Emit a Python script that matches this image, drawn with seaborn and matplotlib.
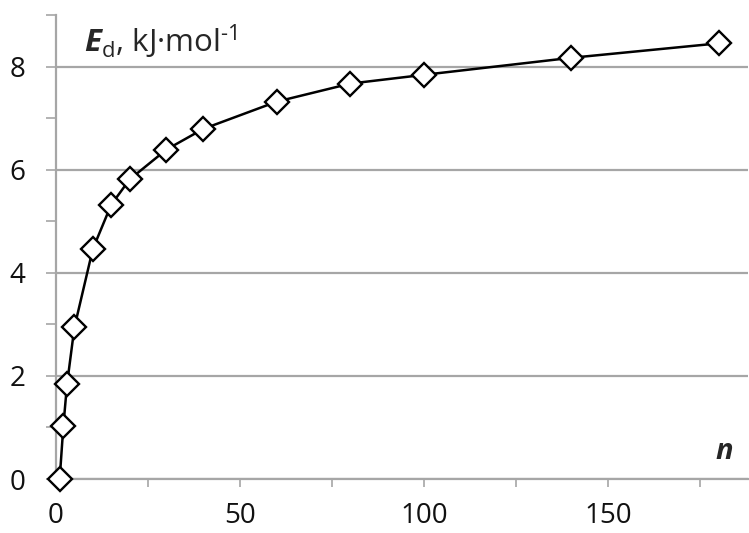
import matplotlib
matplotlib.use("Agg")
import matplotlib.pyplot as plt
from matplotlib.ticker import MultipleLocator
import seaborn as sns
import pandas as pd

# Cluster size n and dispersion energy E_d (kJ/mol)
n_values = [1, 2, 3, 5, 10, 15, 20, 30, 40, 60, 80, 100, 140, 180]
ed_values = [0.0, 1.03, 1.84, 2.94, 4.46, 5.32, 5.81, 6.39, 6.79, 7.32, 7.67, 7.84, 8.17, 8.45]

x_tick_values = [0, 50, 100, 150]
x_tick_labels = ["0", "50", "100", "150"]
y_tick_values = [0, 2, 4, 6, 8]
y_tick_labels = ["0", "2", "4", "6", "8"]

df = pd.DataFrame({"n": n_values, "Ed": ed_values})

sns.set_style("white")
plt.rcParams["font.family"] = ["Open Sans", "DejaVu Sans"]
plt.rcParams["mathtext.fontset"] = "custom"
plt.rcParams["mathtext.rm"] = "Open Sans"
plt.rcParams["mathtext.it"] = "Open Sans:italic"
plt.rcParams["mathtext.bf"] = "Open Sans:bold"
plt.rcParams["mathtext.bfit"] = "Open Sans:bold:italic"

fig = plt.figure(figsize=(7.49, 5.33), dpi=100)
ax = fig.add_axes([56 / 749, 1 - 479 / 533, (748 - 56) / 749, (479 - 15) / 533])

grid_col = "#a6a6a6"
ax.set_xlim(0, 188)
ax.set_ylim(0, 9)
for y in y_tick_values:
    ax.axhline(y, color=grid_col, lw=1.6, zorder=0)

sns.lineplot(data=df, x="n", y="Ed", ax=ax, color="black", lw=1.8,
             marker="D", markersize=12, markerfacecolor="white",
             markeredgecolor="black", markeredgewidth=1.7, zorder=3,
             clip_on=False)

ax.set_xticks(x_tick_values)
ax.set_xticklabels(x_tick_labels)
ax.set_yticks(y_tick_values)
ax.set_yticklabels(y_tick_labels)
ax.xaxis.set_minor_locator(MultipleLocator(25))
ax.yaxis.set_minor_locator(MultipleLocator(1))

ax.tick_params(axis="x", which="both", direction="out", length=6, width=1.2,
               color=grid_col, bottom=True, labelsize=20, pad=10.5, labelcolor="#111111")
ax.tick_params(axis="y", which="both", direction="out", length=7, width=1.2,
               color=grid_col, left=True, labelsize=20, pad=15, labelcolor="#111111")

for side in ["top", "right"]:
    ax.spines[side].set_visible(False)
for side in ["left", "bottom"]:
    ax.spines[side].set_color(grid_col)
    ax.spines[side].set_linewidth(1.6)

ax.set_xlabel("")
ax.set_ylabel("")

ax.text(0.040, 0.942, r"$\mathbfit{E}_{\mathrm{d}}$" + r", kJ·mol$^{\text{-1}}$",
        transform=ax.transAxes, fontsize=22.5, ha="left", va="center")
ax.text(0.978, 0.06, "n", transform=ax.transAxes, fontsize=21,
        fontweight="bold", fontstyle="italic", ha="right", va="center")

fig.savefig("out.png", dpi=100)
